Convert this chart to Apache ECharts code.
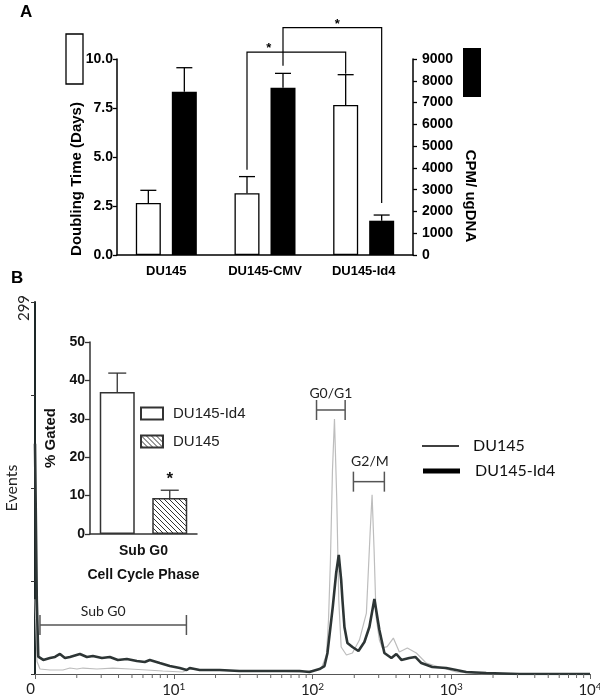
<!DOCTYPE html>
<html><head><meta charset="utf-8">
<script src="https://cdn.jsdelivr.net/npm/echarts@6/dist/echarts.min.js"></script>
<style>html,body{margin:0;padding:0;background:#fff}#c{width:600px;height:700px}</style>
</head><body><div id="c"></div>
<script>
// ---------- Panel A data ----------
const categoriesA = ['DU145', 'DU145-CMV', 'DU145-Id4'];
const doublingTime = [2.65, 3.15, 7.65];
const doublingErr = [0.65, 0.85, 1.55];
const cpmValues = [7500, 7680, 1575];
const cpmErr = [1100, 660, 260];
// significance brackets: [fromCat, toCat, startY, topY, endY, starFraction] (left-axis units)
const sigWhite = [1, 2, 4.35, 10.35, 9.25, 0.22];
const sigBlack = [1, 2, 9.65, 11.6, 2.65, 0.55];

// ---------- Panel B inset data ----------
const insetCategories = ['Sub G0'];
const gatedId4 = [37];
const gatedId4Err = [4.9];
const gatedDU145 = [9.4];
const gatedDU145Err = [2.0];

// ---------- Panel B histogram data ([channel, events]) ----------
const histDU145 = [[1,60],[1.034,10],[1.086,4.0],[1.282,3.2],[1.59,3.2],[1.786,4.8],[2.005,4.0],[2.215,4.8],[2.793,4.0],[3.64,4.8],[4.826,4.0],[6.394,3.2],[8.33,2.4],[11.61,1.6],[13.04,4.0],[18.16,3.2],[29.8,2.4],[49,2.4],[80.6,1.6],[108.6,3.2],[116.1,4.8],[118,5.6],[126.1,15.3],[130.4,43.4],[134.7,91.6],[139.3,164],[144,205],[149.6,140],[154.6,59.5],[160.9,21.7],[175.6,15.3],[194,16.9],[217.8,27.3],[244.6,49],[260,113],[268.8,144],[277.9,99.7],[287.3,45.8],[303.4,27.3],[318.9,20.9],[345,22],[382.6,28.9],[422.6,17.7],[482.6,20.9],[560,16.9],[661,8.8],[820,5.6],[1086,1.6],[1671,0],[10000,0]];
const histId4 = [[1,185],[1.03,60],[1.056,13.9],[1.147,11.3],[1.282,12.9],[1.393,13.7],[1.513,16.1],[1.644,12.9],[1.786,13.7],[2.107,16.1],[2.366,13.7],[2.614,14.5],[3.034,12.9],[3.464,13.7],[3.955,11.3],[4.59,12.1],[5.418,10.4],[6.185,9.6],[6.72,11.3],[7.93,8.8],[9.36,6.4],[11.05,4.8],[12.4,3.2],[13.04,4.8],[15.38,3.2],[21.4,3.2],[29.8,2.4],[41.6,2.4],[57.9,2.4],[80.6,2.4],[95.1,1.6],[112.3,4.0],[122,6.4],[128.2,16.9],[140,53.9],[148.1,81.2],[154.6,95.7],[160.9,75.6],[164.4,59.5],[169.9,37.8],[178.5,24.9],[194,21.7],[214.3,18.5],[236.6,25.7],[257,37.8],[279.3,60.3],[303.4,35.4],[329.6,16.9],[370.2,12.9],[402.1,16.1],[436.9,11.3],[498.5,12.9],[550.8,13.7],[608.4,8.8],[730,5.6],[920,4.8],[1282,1.6],[1786,0.8],[3085,0],[10000,0]];
// gates: [from, to, level]
const gateNames = ['Sub G0', 'G0/G1', 'G2/M'];
const gateRanges = [[1.086, 12.34, 39.4], [106.9, 171.9, 212.2], [197.2, 329.6, 154.6]];
const minorTicksB = [2,3,4,5,6,7,8,9,20,30,40,50,60,70,80,90,200,300,400,500,600,700,800,900,2000,3000,4000,5000,6000,7000,8000,9000];

// ---------- styling ----------
const FA = '"Liberation Sans", Arial, sans-serif';
const FB = 'Lato, "Open Sans", sans-serif';
const barWA = 25, gapA = 0.44;
const offA = (barWA + barWA * gapA) / 2;
const barWI = 35, gapI = 0.5;
const offI = (barWI + barWI * gapI) / 2;
const gateLabelDX = [-10, 0, 1];
const gateLabelDY = [-13, -17, -20];

function hatch() {
  const c = document.createElement('canvas');
  c.width = 5; c.height = 5;
  const g = c.getContext('2d');
  g.fillStyle = '#fff'; g.fillRect(0, 0, 5, 5);
  g.strokeStyle = '#333'; g.lineWidth = 1;
  g.beginPath();
  g.moveTo(-1, -1); g.lineTo(6, 6);
  g.moveTo(-1, 4); g.lineTo(2, 7);
  g.moveTo(4, -1); g.lineTo(7, 2);
  g.stroke();
  return c;
}

function errSeries(xi, yi, vals, errs, offset, color, cap) {
  return {
    type: 'custom', xAxisIndex: xi, yAxisIndex: yi, clip: false, z: 5,
    data: vals.map((v, i) => [i, v, errs[i]]),
    renderItem: (params, api) => {
      const i = api.value(0);
      const base = api.coord([i, api.value(1)]);
      const top = api.coord([i, api.value(1) + api.value(2)]);
      const x = base[0] + offset;
      return { type: 'group', children: [
        { type: 'line', shape: { x1: x, y1: base[1], x2: x, y2: top[1] }, style: { stroke: color, lineWidth: 1.3 } },
        { type: 'line', shape: { x1: x - cap, y1: top[1], x2: x + cap, y2: top[1] }, style: { stroke: color, lineWidth: 1.3 } }
      ]};
    }
  };
}

function sigSeries(sig, offset) {
  return {
    type: 'custom', xAxisIndex: 0, yAxisIndex: 0, clip: false, z: 6,
    data: [sig],
    renderItem: (params, api) => {
      const a = api.coord([api.value(0), api.value(2)]);
      const t1 = api.coord([api.value(0), api.value(3)]);
      const b = api.coord([api.value(1), api.value(4)]);
      const xa = a[0] + offset, xb = b[0] + offset;
      const ty = t1[1];
      const sx = xa + (xb - xa) * api.value(5);
      return { type: 'group', children: [
        { type: 'polyline', shape: { points: [[xa, a[1]], [xa, ty], [xb, ty], [xb, b[1]]] }, style: { stroke: '#000', lineWidth: 1.2, fill: null } },
        { type: 'text', style: { x: sx, y: ty + 3, text: '*', fill: '#000', font: 'bold 13px ' + FA, align: 'center', verticalAlign: 'bottom' } }
      ]};
    }
  };
}

const chart = echarts.init(document.getElementById('c'));
const blackAxis = { lineStyle: { color: '#000', width: 1.5 } };
const option = {
  animation: false,
  backgroundColor: '#fff',
  grid: [
    { left: 117, top: 59, width: 296, height: 196, outerBoundsMode: 'none', containLabel: false },
    { left: 90, top: 342, width: 107, height: 192, outerBoundsMode: 'none', containLabel: false },
    { left: 35, top: 302, width: 555, height: 372, outerBoundsMode: 'none', containLabel: false }
  ],
  legend: {
    data: ['DU145-Id4', 'DU145'], orient: 'vertical', left: 140, top: 406, padding: 0,
    itemWidth: 22, itemHeight: 12, itemGap: 13, icon: 'rect', selectedMode: false,
    textStyle: { fontFamily: FA, fontSize: 15, color: '#222', padding: [0, 0, 0, 5] }
  },
  xAxis: [
    { gridIndex: 0, type: 'category', data: categoriesA, axisLine: blackAxis,
      axisTick: { alignWithLabel: true, length: 5, lineStyle: { color: '#000', width: 1.3 } },
      axisLabel: { fontFamily: FA, fontWeight: 'bold', fontSize: 13, color: '#000', margin: 10 } },
    { gridIndex: 1, type: 'category', data: insetCategories,
      axisLine: { lineStyle: { color: '#333', width: 1.5 } },
      axisTick: { alignWithLabel: true, length: 5, lineStyle: { color: '#333', width: 1.3 } },
      axisLabel: { fontFamily: FA, fontWeight: 'bold', fontSize: 14, color: '#111', margin: 10 },
      name: 'Cell Cycle Phase', nameLocation: 'middle', nameGap: 34, nameMoveOverlap: false,
      nameTextStyle: { fontFamily: FA, fontWeight: 'bold', fontSize: 14, color: '#111' } },
    { gridIndex: 2, type: 'log', logBase: 10, min: 1, max: 10000,
      axisLine: { lineStyle: { color: '#555', width: 1.2 } },
      axisTick: { show: true, inside: false, length: 5, lineStyle: { color: '#666', width: 1 } },
      splitLine: { show: false },
      axisLabel: { fontFamily: FB, fontSize: 15, color: '#222', margin: 8, alignMinLabel: 'right',
        formatter: v => v <= 1 ? '0' : '10{s|' + Math.round(Math.log10(v)) + '}',
        rich: { s: { fontFamily: FB, fontSize: 10, color: '#222', verticalAlign: 'top', padding: [0, 0, 6, 0] } } } }
  ],
  yAxis: [
    { gridIndex: 0, type: 'value', min: 0, max: 10, interval: 2.5,
      axisLine: { show: true, lineStyle: { color: '#000', width: 1.5 } },
      axisTick: { show: true, length: 4, lineStyle: { color: '#000', width: 1.3 } },
      splitLine: { show: false },
      axisLabel: { formatter: v => v.toFixed(1), fontFamily: FA, fontWeight: 'bold', fontSize: 14, color: '#000', margin: 4 },
      name: 'Doubling Time (Days)', nameLocation: 'middle', nameRotate: 90, nameGap: 33, nameMoveOverlap: false,
      nameTextStyle: { fontFamily: FA, fontWeight: 'bold', fontSize: 15, color: '#000', padding: [0, 44, 0, 0] } },
    { gridIndex: 0, type: 'value', position: 'right', min: 0, max: 9000, interval: 1000,
      axisLine: { show: true, lineStyle: { color: '#000', width: 1.5 } },
      axisTick: { show: true, length: 4, lineStyle: { color: '#000', width: 1.3 } },
      splitLine: { show: false },
      axisLabel: { formatter: v => String(v), fontFamily: FA, fontWeight: 'bold', fontSize: 14, color: '#000', margin: 9 },
      name: 'CPM/ ugDNA', nameLocation: 'middle', nameRotate: -90, nameGap: 50, nameMoveOverlap: false,
      nameTextStyle: { fontFamily: FA, fontWeight: 'bold', fontSize: 15, color: '#000', padding: [0, 0, 0, 78] } },
    { gridIndex: 1, type: 'value', min: 0, max: 50, interval: 10,
      axisLine: { show: true, lineStyle: { color: '#333', width: 1.5 } },
      axisTick: { show: true, length: 5, lineStyle: { color: '#333', width: 1.3 } },
      splitLine: { show: false },
      axisLabel: { fontFamily: FA, fontWeight: 'bold', fontSize: 14, color: '#111', margin: 5 },
      name: '% Gated', nameLocation: 'middle', nameRotate: 90, nameGap: 32, nameMoveOverlap: false,
      nameTextStyle: { fontFamily: FA, fontWeight: 'bold', fontSize: 15, color: '#111' } },
    { gridIndex: 2, type: 'value', min: 0, max: 299, interval: 74.75,
      axisLine: { show: true, lineStyle: { color: '#1d2828', width: 2 } },
      axisTick: { show: true, length: 4, lineStyle: { color: '#333', width: 1 } },
      splitLine: { show: false },
      axisLabel: { formatter: v => v >= 298 ? '299' : '', rotate: 90, fontFamily: FB, fontSize: 15, color: '#222', margin: 3, padding: [0, 12, 0, 0] },
      name: 'Events', nameLocation: 'middle', nameRotate: 90, nameGap: 15, nameMoveOverlap: false,
      nameTextStyle: { fontFamily: FB, fontSize: 16, color: '#222' } }
  ],
  series: [
    // Panel A bars
    { type: 'bar', name: 'Doubling Time', xAxisIndex: 0, yAxisIndex: 0, data: doublingTime,
      barWidth: barWA, barGap: (gapA * 100) + '%', itemStyle: { color: '#fff', borderColor: '#000', borderWidth: 1.3 } },
    { type: 'bar', name: 'CPM', xAxisIndex: 0, yAxisIndex: 1, data: cpmValues,
      barWidth: barWA, barGap: (gapA * 100) + '%', itemStyle: { color: '#000' } },
    errSeries(0, 0, doublingTime, doublingErr, -offA, '#000', 8),
    errSeries(0, 1, cpmValues, cpmErr, offA, '#000', 8),
    sigSeries(sigWhite, -offA),
    sigSeries(sigBlack, offA),
    // Inset bars
    { type: 'bar', name: 'DU145-Id4', xAxisIndex: 1, yAxisIndex: 2, data: gatedId4,
      barWidth: barWI, barGap: (gapI * 100) + '%', itemStyle: { color: '#fff', borderColor: '#333', borderWidth: 1.5 } },
    { type: 'bar', name: 'DU145', xAxisIndex: 1, yAxisIndex: 2, data: gatedDU145,
      barWidth: barWI, barGap: (gapI * 100) + '%',
      itemStyle: { color: { image: hatch(), repeat: 'repeat' }, borderColor: '#333', borderWidth: 1.5 },
      label: { show: true, position: 'top', distance: 10, formatter: '*', fontFamily: FA, fontWeight: 'bold', fontSize: 17, color: '#111' } },
    errSeries(1, 2, gatedId4, gatedId4Err, -offI, '#333', 9),
    errSeries(1, 2, gatedDU145, gatedDU145Err, offI, '#333', 9),
    // Histogram
    { type: 'line', name: 'DU145', xAxisIndex: 2, yAxisIndex: 3, data: histDU145, showSymbol: false, z: 2,
      lineStyle: { color: '#bdbdbd', width: 1.2 }, itemStyle: { color: '#bdbdbd' } },
    { type: 'line', name: 'DU145-Id4', xAxisIndex: 2, yAxisIndex: 3, data: histId4, showSymbol: false, z: 3,
      lineStyle: { color: '#2d3535', width: 2.6 }, itemStyle: { color: '#2d3535' } },
    { type: 'custom', xAxisIndex: 2, yAxisIndex: 3, clip: false, z: 4,
      data: minorTicksB.map(v => [v, 0]),
      renderItem: (params, api) => {
        const p = api.coord([api.value(0), 0]);
        return { type: 'line', shape: { x1: p[0], y1: p[1], x2: p[0], y2: p[1] + 4 }, style: { stroke: '#666', lineWidth: 1 } };
      } },
    { type: 'custom', xAxisIndex: 2, yAxisIndex: 3, clip: false, z: 4,
      data: gateRanges,
      renderItem: (params, api) => {
        const i = params.dataIndex;
        const a = api.coord([api.value(0), api.value(2)]);
        const b = api.coord([api.value(1), api.value(2)]);
        const st = { stroke: '#555', lineWidth: 1.5 };
        return { type: 'group', children: [
          { type: 'line', shape: { x1: a[0], y1: a[1], x2: b[0], y2: b[1] }, style: st },
          { type: 'line', shape: { x1: a[0], y1: a[1] - 10, x2: a[0], y2: a[1] + 10 }, style: st },
          { type: 'line', shape: { x1: b[0], y1: b[1] - 10, x2: b[0], y2: b[1] + 10 }, style: st },
          { type: 'text', style: { x: (a[0] + b[0]) / 2 + gateLabelDX[i], y: a[1] + gateLabelDY[i], text: gateNames[i], fill: '#222', font: '14px ' + FB, align: 'center', verticalAlign: 'middle' } }
        ]};
      } }
  ],
  graphic: [
    { type: 'text', left: 20, top: 4, style: { text: 'A', font: 'bold 17px ' + FA, fill: '#000' } },
    { type: 'text', left: 11, top: 270, style: { text: 'B', font: 'bold 17px ' + FA, fill: '#000' } },
    { type: 'rect', shape: { x: 66, y: 34, width: 17, height: 50 }, style: { fill: '#fff', stroke: '#000', lineWidth: 1.3 } },
    { type: 'rect', shape: { x: 463, y: 48, width: 18, height: 49 }, style: { fill: '#000' } },
    { type: 'line', shape: { x1: 422, y1: 446, x2: 459, y2: 446 }, style: { stroke: '#000', lineWidth: 1.5 } },
    { type: 'line', shape: { x1: 423, y1: 471, x2: 460, y2: 471 }, style: { stroke: '#000', lineWidth: 5 } },
    { type: 'text', x: 473, y: 446, style: { text: 'DU145', font: '16px ' + FB, fill: '#111', verticalAlign: 'middle' } },
    { type: 'text', x: 475, y: 471, style: { text: 'DU145-Id4', font: '16px ' + FB, fill: '#111', verticalAlign: 'middle' } }
  ]
};
chart.setOption(option);
</script>
</body></html>
